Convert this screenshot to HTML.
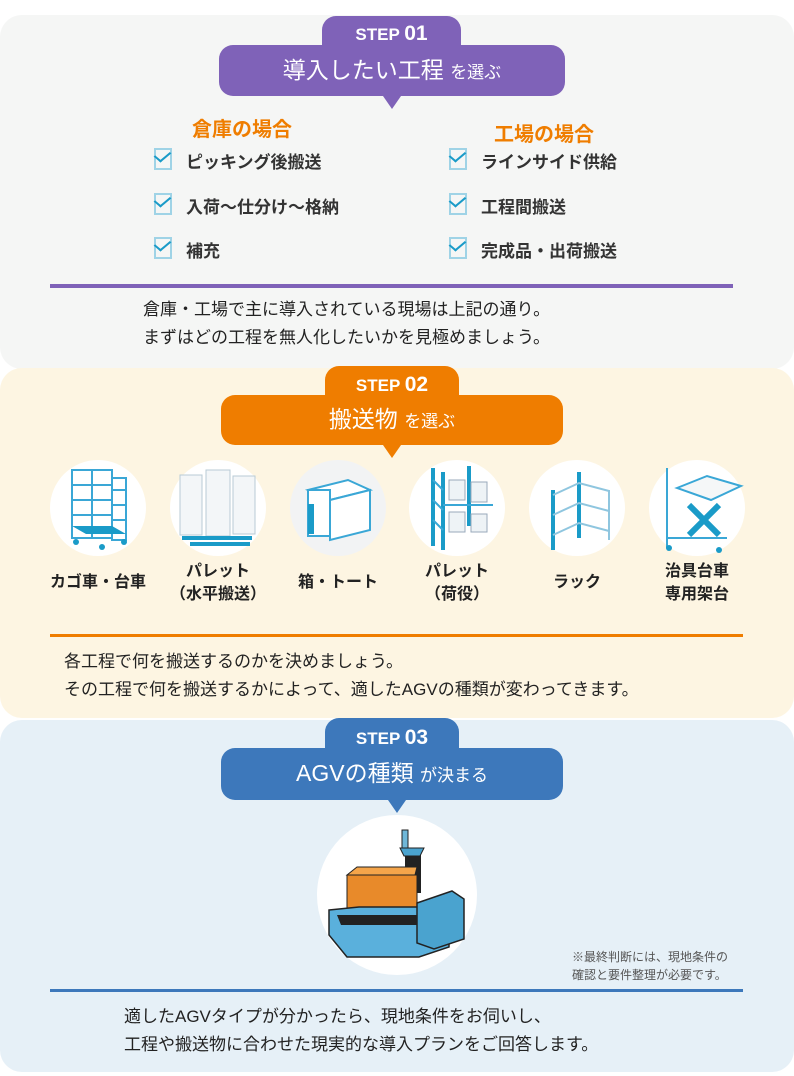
<!DOCTYPE html>
<html><head><meta charset="utf-8"><style>
*{margin:0;padding:0;box-sizing:border-box}
body{width:794px;height:1076px;background:#fff;position:relative;overflow:hidden;font-family:"Liberation Sans","Noto Sans CJK JP",sans-serif;color:#222}
.a{position:absolute}
.panel{position:absolute;left:0;width:794px;border-radius:22px}
.tab{position:absolute;border-radius:14px 14px 0 0;color:#fff;font-weight:bold;text-align:center}
.bub{position:absolute;border-radius:14px;color:#fff;text-align:center;font-weight:bold}
.tri{position:absolute;width:0;height:0;border-left:9px solid transparent;border-right:9px solid transparent}
.chk{position:absolute;width:18px;height:22px;border:2px solid #9fd3e6}
.chk:after{content:"";position:absolute;left:2px;top:-2px;width:7px;height:12px;border-right:2.5px solid #1a9bc8;border-bottom:2.5px solid #1a9bc8;transform:rotate(40deg) skewX(-10deg)}
.li{position:absolute;font-size:17px;font-weight:bold;color:#333}
.cir{position:absolute;width:96px;height:96px;border-radius:50%;background:#fff}
.lab{position:absolute;width:120px;text-align:center;font-size:16px;font-weight:bold;line-height:23px;color:#222}
.txt{position:absolute;font-size:17px;line-height:28px;color:#222}
</style></head><body>
<div class="panel" style="top:15px;height:354px;background:#f5f6f5"></div>
<div class="panel" style="top:368px;height:350px;background:#fdf5e2"></div>
<div class="panel" style="top:720px;height:352px;background:#e6f0f7"></div>

<!-- STEP 1 -->
<div class="tab" style="left:322px;top:16px;width:139px;height:32px;background:#7f62b8;font-size:17px;line-height:36px">STEP <span style="font-size:21px">01</span></div>
<div class="bub" style="left:219px;top:45px;width:346px;height:51px;background:#7f62b8;font-size:23px;line-height:50px;font-weight:normal">導入したい工程 <span style="font-size:17px">を選ぶ</span></div>
<div class="tri" style="left:383px;top:96px;border-top:13px solid #7f62b8"></div>
<div class="a" style="left:192px;top:113px;font-size:20px;font-weight:bold;color:#ef7d00">倉庫の場合</div>
<div class="a" style="left:494px;top:118px;font-size:20px;font-weight:bold;color:#ef7d00">工場の場合</div>
<div class="chk" style="left:154px;top:148px"></div><div class="li" style="left:186px;top:148px">ピッキング後搬送</div>
<div class="chk" style="left:154px;top:193px"></div><div class="li" style="left:186px;top:193px">入荷〜仕分け〜格納</div>
<div class="chk" style="left:154px;top:237px"></div><div class="li" style="left:186px;top:237px">補充</div>
<div class="chk" style="left:449px;top:148px"></div><div class="li" style="left:481px;top:148px">ラインサイド供給</div>
<div class="chk" style="left:449px;top:193px"></div><div class="li" style="left:481px;top:193px">工程間搬送</div>
<div class="chk" style="left:449px;top:237px"></div><div class="li" style="left:481px;top:237px">完成品・出荷搬送</div>
<div class="a" style="left:50px;top:284px;width:683px;height:4px;background:#7f62b8"></div>
<div class="txt" style="left:143px;top:296px">倉庫・工場で主に導入されている現場は上記の通り。<br>まずはどの工程を無人化したいかを見極めましょう。</div>

<!-- STEP 2 -->
<div class="tab" style="left:325px;top:366px;width:134px;height:32px;background:#ef7d00;font-size:17px;line-height:38px">STEP <span style="font-size:21px">02</span></div>
<div class="bub" style="left:221px;top:395px;width:342px;height:50px;background:#ef7d00;font-size:23px;line-height:48px;font-weight:normal">搬送物 <span style="font-size:17px">を選ぶ</span></div>
<div class="tri" style="left:383px;top:445px;border-top:13px solid #ef7d00"></div>

<div class="cir" style="left:50px;top:460px"></div>
<svg class="a" style="left:50px;top:460px" width="96" height="96"><g fill="none" stroke="#3aa7d6" stroke-width="2"><rect x="22" y="10" width="40" height="68"/><rect x="62" y="18" width="14" height="62"/><path d="M22 25h40M22 40h40M22 55h40M42 10v68M62 30h14M62 45h14M62 60h14"/></g><path d="M22 66l40 0 14 8-40 0z" fill="#1a9bc8"/><circle cx="26" cy="82" r="3" fill="#1a9bc8"/><circle cx="52" cy="87" r="3" fill="#1a9bc8"/><circle cx="74" cy="82" r="3" fill="#1a9bc8"/></svg>
<div class="cir" style="left:170px;top:460px"></div>
<svg class="a" style="left:170px;top:460px" width="96" height="96"><g fill="#f3f6f8" stroke="#b8cbd6" stroke-width="1"><rect x="10" y="15" width="22" height="60"/><rect x="36" y="10" width="24" height="66"/><rect x="63" y="16" width="22" height="58"/></g><path d="M12 78h70M20 84h60" stroke="#1a9bc8" stroke-width="4"/></svg>
<div class="cir" style="left:290px;top:460px;background:#f2f3f4"></div>
<svg class="a" style="left:290px;top:460px" width="96" height="96"><path d="M18 30l40-10 22 10-40 10z" fill="#fff" stroke="#3aa7d6" stroke-width="2"/><rect x="18" y="30" width="22" height="46" fill="#fff" stroke="#3aa7d6" stroke-width="2"/><path d="M40 40l40-10v40l-40 10z" fill="#fff" stroke="#3aa7d6" stroke-width="2"/><rect x="18" y="44" width="6" height="30" fill="#1a9bc8"/></svg>
<div class="cir" style="left:409px;top:460px"></div>
<svg class="a" style="left:409px;top:460px" width="96" height="96"><g stroke="#1a9bc8" stroke-width="4" fill="none"><path d="M24 8v78M34 12v78M60 6v60"/></g><path d="M24 20l10 10M24 40l10 10M24 60l10 10M34 45h50" stroke="#3aa7d6" stroke-width="2"/><g fill="#eef3f6" stroke="#9ab" stroke-width="1"><rect x="40" y="20" width="16" height="20"/><rect x="62" y="22" width="16" height="20"/><rect x="40" y="52" width="16" height="20"/><rect x="62" y="54" width="16" height="18"/></g></svg>
<div class="cir" style="left:529px;top:460px"></div>
<svg class="a" style="left:529px;top:460px" width="96" height="96"><g stroke="#1a9bc8" stroke-width="4"><path d="M24 30v60M50 12v66"/></g><g stroke="#8fc6df" stroke-width="2" fill="none"><path d="M24 35l26-12 30 8M24 55l26-12 30 8M24 75l26-12 30 8M80 30v50"/></g></svg>
<div class="cir" style="left:649px;top:460px"></div>
<svg class="a" style="left:649px;top:460px" width="96" height="96"><path d="M28 28l30-12 34 10-30 14z" fill="#f5f7f8" stroke="#3aa7d6" stroke-width="2"/><path d="M40 45l30 30M70 45l-30 30" stroke="#1a9bc8" stroke-width="6"/><path d="M18 8v80M18 78h60" stroke="#3aa7d6" stroke-width="2"/><circle cx="20" cy="88" r="3" fill="#1a9bc8"/><circle cx="70" cy="90" r="3" fill="#1a9bc8"/></svg>

<div class="lab" style="left:38px;top:571px">カゴ車・台車</div>
<div class="lab" style="left:158px;top:560px">パレット<br>（水平搬送）</div>
<div class="lab" style="left:278px;top:571px">箱・トート</div>
<div class="lab" style="left:397px;top:560px">パレット<br>（荷役）</div>
<div class="lab" style="left:517px;top:571px">ラック</div>
<div class="lab" style="left:637px;top:560px">治具台車<br>専用架台</div>
<div class="a" style="left:50px;top:634px;width:693px;height:3px;background:#ef7d00"></div>
<div class="txt" style="left:64px;top:648px">各工程で何を搬送するのかを決めましょう。<br>その工程で何を搬送するかによって、適したAGVの種類が変わってきます。</div>

<!-- STEP 3 -->
<div class="tab" style="left:325px;top:718px;width:134px;height:34px;background:#3d78bb;font-size:17px;line-height:40px">STEP <span style="font-size:21px">03</span></div>
<div class="bub" style="left:221px;top:748px;width:342px;height:52px;background:#3d78bb;font-size:23px;line-height:50px;font-weight:normal">AGVの種類 <span style="font-size:17px">が決まる</span></div>
<div class="tri" style="left:388px;top:800px;border-top:13px solid #3d78bb"></div>
<div class="a" style="left:317px;top:815px;width:160px;height:160px;border-radius:50%;background:#fff"></div>
<svg class="a" style="left:317px;top:815px" width="160" height="160"><rect x="85" y="15" width="6" height="22" fill="#6fb7d8" stroke="#222"/><rect x="88" y="33" width="16" height="45" fill="#222"/><path d="M83 33h24l-4 8h-16z" fill="#4aa3cf" stroke="#222"/><path d="M30 60h70v40H30z" fill="#e88a2a" stroke="#222"/><path d="M30 60l10-8h60l-2 8z" fill="#f5a54a" stroke="#222"/><path d="M12 95l30-3h90v40l-30 10H30L12 120z" fill="#5ab0dc" stroke="#222" stroke-width="1.5"/><path d="M100 88l35-12 12 8v40l-30 10-17-6z" fill="#4aa3cf" stroke="#222" stroke-width="1.5"/><path d="M20 100h80v10H24z" fill="#222"/></svg>
<div class="a" style="left:572px;top:948px;font-size:12px;line-height:18px;color:#555">※最終判断には、現地条件の<br>確認と要件整理が必要です。</div>
<div class="a" style="left:50px;top:989px;width:693px;height:3px;background:#3d78bb"></div>
<div class="txt" style="left:124px;top:1003px">適したAGVタイプが分かったら、現地条件をお伺いし、<br>工程や搬送物に合わせた現実的な導入プランをご回答します。</div>
</body></html>
